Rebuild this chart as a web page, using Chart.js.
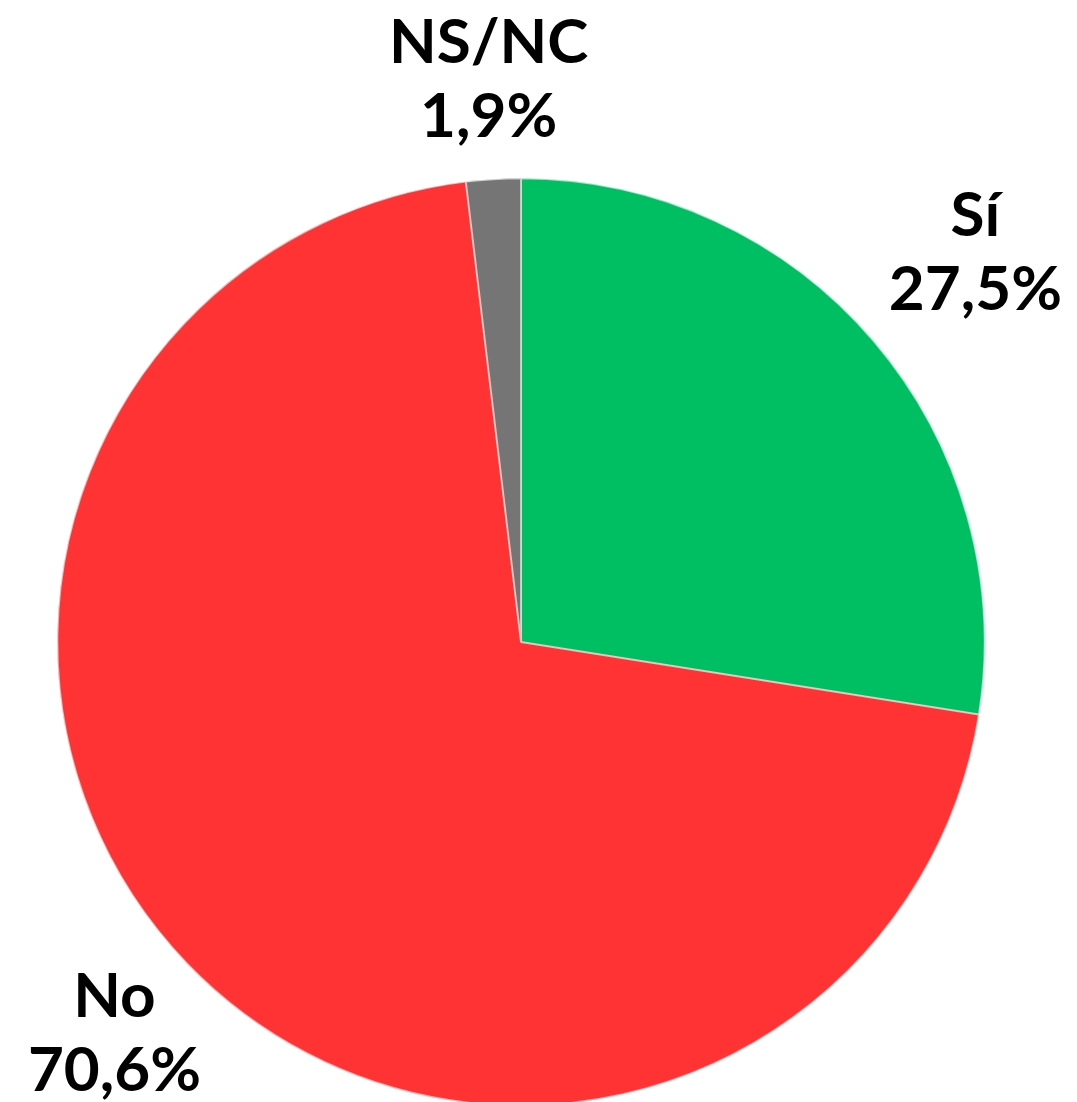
<!DOCTYPE html>
<html>
<head>
  <title>Encuesta</title>
  <script src="https://cdn.jsdelivr.net/npm/chart.js"></script>
  <style>
    html, body { margin: 0; padding: 0; background: #fff; overflow: hidden; }
    canvas { display: block; }
  </style>
</head>
<body>
  <canvas id="pieChart" width="1077" height="1120"></canvas>

  <script>
    const labels = ['Sí', 'No', 'NS/NC'];
    const values = [27.5, 70.6, 1.9];
    const colors = ['#00bf63', '#ff3333', '#757575'];

    const fmt = v => v.toFixed(1).replace('.', ',') + '%';

    // labels outside each slice, pushed out along the slice's middle angle
    const outsideLabels = {
      id: 'outsideLabels',
      afterDatasetsDraw(chart) {
        const ctx = chart.ctx;
        const meta = chart.getDatasetMeta(0);
        const size = 62, gap = 13;
        ctx.save();
        ctx.font = `bold ${size}px Lato`;
        ctx.fillStyle = '#000';
        ctx.textAlign = 'center';
        ctx.textBaseline = 'alphabetic';
        meta.data.forEach((arc, i) => {
          const lines = [labels[i], fmt(values[i])];
          const w = Math.max(...lines.map(t => ctx.measureText(t).width));
          const h = 120;
          const mid = (arc.startAngle + arc.endAngle) / 2;
          const dx = Math.cos(mid), dy = Math.sin(mid);
          const ext = Math.abs(dx) * w / 2 + Math.abs(dy) * h / 2;
          const d = arc.outerRadius + gap + ext;
          const side = Math.abs(dx) > 0.3;
          const cx = arc.x + dx * d + (side ? 12 : 0);
          const cy = arc.y + dy * d + (side ? 9 : 0);
          ctx.fillText(lines[0], cx, cy - 37);
          ctx.fillText(lines[1], cx, cy + 37);
        });
        ctx.restore();
      }
    };

    new Chart(document.getElementById('pieChart'), {
      type: 'pie',
      data: {
        labels: labels,
        datasets: [{
          data: values,
          backgroundColor: colors,
          borderColor: 'rgba(255,255,255,0.6)',
          borderWidth: 1,
          borderAlign: 'inner'
        }]
      },
      options: {
        responsive: false,
        animation: false,
        layout: { padding: { left: 57, right: 92, top: 178, bottom: 14 } },
        plugins: {
          legend: { display: false },
          tooltip: { enabled: false }
        }
      },
      plugins: [outsideLabels]
    });
  </script>
</body>
</html>
